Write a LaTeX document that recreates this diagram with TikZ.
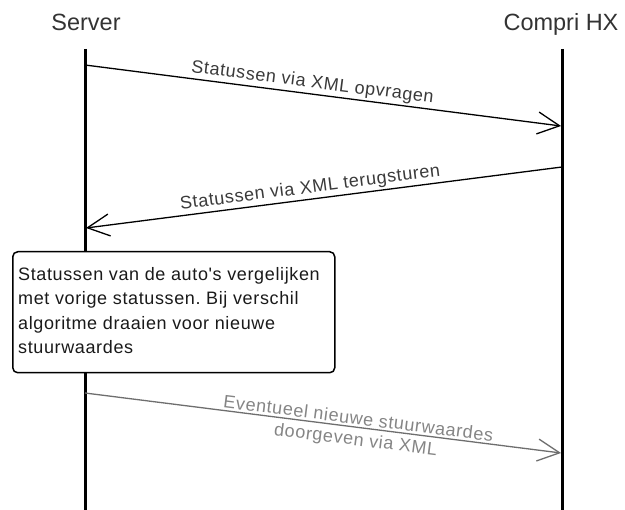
\documentclass[tikz,border=0pt]{standalone}
\usepackage{fontspec}
\setmainfont{Liberation Sans}
\newfontfamily\lblfont{Liberation Sans}[LetterSpace=3.5]
\usetikzlibrary{arrows.meta}
\definecolor{hdr}{HTML}{333333}
\definecolor{lbl}{HTML}{3A3A3A}
\definecolor{faint}{HTML}{858585}
\definecolor{fline}{HTML}{6E6E6E}
\definecolor{notetxt}{HTML}{1A1A1A}
\frenchspacing
\begin{document}
\begin{tikzpicture}[x=1pt,y=-1pt,
  hdrtext/.style={font=\fontsize{23.5}{28}\selectfont, text=hdr, anchor=base, inner sep=0pt},
  lifeline/.style={line width=3pt, black},
  msg/.style={line width=1.3pt, -{Straight Barb[length=22pt,width=22pt]}},
  msglbl/.style={font=\lblfont\fontsize{18}{21}\selectfont, sloped, anchor=south, inner sep=2pt, text=lbl},
  notebox/.style={draw, line width=1.5pt, rounded corners=5pt, minimum width=322pt, minimum height=121pt, anchor=north west, inner sep=0pt},
  notetext/.style={font=\lblfont\fontsize{18}{24.5}\selectfont, text=notetxt, anchor=north west, align=left, inner sep=0pt},
]
\useasboundingbox (0,0) rectangle (625,510);

% headers
\node[hdrtext] (server) at (86,31) {Server};
\node[hdrtext] (compri) at (561,31) {Compri HX};

% lifeline anchors
\coordinate (stop) at (85,49);
\coordinate (sbot) at (85,510);
\coordinate (ctop) at (562,49);
\coordinate (cbot) at (562,510);

% note box
\node[notebox] (note) at (12,251) {};
\node[notetext] (notet) at (18,267) {Statussen van de auto's vergelijken\\met vorige statussen. Bij verschil\\algoritme draaien voor nieuwe\\stuurwaardes};

% lifelines
\draw[lifeline] (stop) -- (stop |- note.north);
\draw[lifeline] (stop |- note.south) -- (sbot);
\draw[lifeline] (ctop) -- (cbot);

% message end points
\coordinate (m1s) at (85,65);
\coordinate (m1e) at (561,126);
\coordinate (m2s) at (562,167);
\coordinate (m2e) at (86,228);
\coordinate (m3s) at (85,393);
\coordinate (m3e) at (561,453);

\draw[msg] (m1s) -- node[msglbl, pos=.475] (l1) {Statussen via XML opvragen} (m1e);
\draw[msg] (m2s) -- node[msglbl, pos=.526] (l2) {Statussen via XML terugsturen} (m2e);
\draw[msg, draw=fline] (m3s) -- node[msglbl, pos=.572, anchor=center, align=center, text=faint, yshift=-3pt] (l3) {Eventueel nieuwe stuurwaardes\\doorgeven via XML} (m3e);
\end{tikzpicture}
\end{document}
